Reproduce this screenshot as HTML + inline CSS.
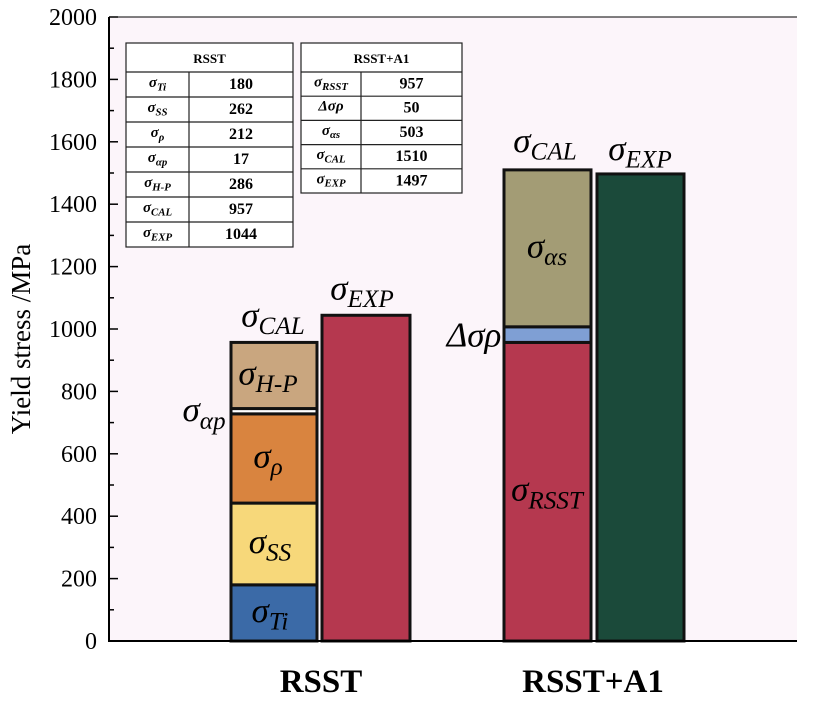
<!DOCTYPE html>
<html><head><meta charset="utf-8"><style>
html,body{margin:0;padding:0;background:#fff;}
svg{display:block;font-family:"Liberation Serif",serif;}
</style></head><body>
<svg id="c" width="816" height="720" viewBox="0 0 816 720"></svg>
<script>
const categories = ["RSST", "RSST+A1"];
const rsstParts = [180, 262, 286, 17, 212];
const rsstPartNames = ["Ti", "SS", "ρ", "αp", "H-P"];
const rsstExp = 1044;
const a1Parts = [957, 50, 503];
const a1PartNames = ["RSST", "Δσρ", "αs"];
const a1Exp = 1497;
const yTicks = [0, 200, 400, 600, 800, 1000, 1200, 1400, 1600, 1800, 2000];
const table1Rows = [["Ti","180"],["SS","262"],["ρ","212"],["αp","17"],["H-P","286"],["CAL","957"],["EXP","1044"]];
const table2Rows = [["RSST","957"],["Δσρ","50"],["αs","503"],["CAL","1510"],["EXP","1497"]];

const NS = "http://www.w3.org/2000/svg";
const svg = document.getElementById("c");
const X0 = 109, X1 = 797, Y0 = 641, Y1 = 17;
const y = v => Y0 - (v / 2000) * (Y0 - Y1);
function mk(tag, attrs, parent) {
  const e = document.createElementNS(NS, tag);
  for (const k in attrs) e.setAttribute(k, attrs[k]);
  (parent || svg).appendChild(e);
  return e;
}
function sigma(x, yy, sub, size, parent, anchor) {
  const t = mk("text", {x: x, y: yy, "font-size": size, "font-style": "italic", "text-anchor": anchor || "middle"}, parent);
  if (sub === "Δσρ") { t.textContent = "Δσρ"; return t; }
  const s1 = document.createElementNS(NS, "tspan"); s1.textContent = "σ"; t.appendChild(s1);
  const s2 = document.createElementNS(NS, "tspan"); s2.setAttribute("font-size", size * 0.72); s2.setAttribute("dy", size * 0.22); s2.textContent = sub; t.appendChild(s2);
  return t;
}

const bg = mk("rect", {x: X0, y: Y1, width: X1 - X0, height: Y0 - Y1, fill: "#fcf5fa"});



for (let v = 0; v <= 2000; v += 100) {
  const major = v % 200 === 0;
  mk("line", {x1: X0, x2: X0 + (major ? 9 : 5), y1: y(v), y2: y(v), stroke: "#000", "stroke-width": 1.5});
}
yTicks.forEach(v => {
  const t = mk("text", {x: X0 - 12, y: y(v) + 8, "font-size": 24, "text-anchor": "end"});
  t.textContent = v;
  
  
});
const yt = mk("text", {x: 0, y: 0, "font-size": 27, "text-anchor": "middle", transform: `translate(30,${(Y0 + Y1) / 2 + 10}) rotate(-90)`});
yt.textContent = "Yield stress /MPa";



const stroke = {stroke: "#111", "stroke-width": 3};
const rsstColors = ["#3b6aa7", "#f7d87a", "#d9843f", "#ffffff", "#c9a67f"];
const a1Colors = ["#b5384f", "#7f9fd4", "#a39c75"];
function stack(x, w, parts, colors, name) {
  let acc = 0;
  const mids = [];
  parts.forEach((v, i) => {
    const r = mk("rect", Object.assign({x: x, y: y(acc + v), width: w, height: y(acc) - y(acc + v), fill: colors[i]}, stroke));
    
    
    mids.push((y(acc) + y(acc + v)) / 2);
    acc += v;
  });
  return {total: acc, mids: mids};
}
const s1 = stack(231, 86, rsstParts, rsstColors, 'rsst');
const e1 = mk("rect", Object.assign({x: 322, y: y(rsstExp), width: 88, height: Y0 - y(rsstExp), fill: "#b5384f"}, stroke));
 
const s2 = stack(504, 87, a1Parts, a1Colors, 'rsst-a1');
const e2 = mk("rect", Object.assign({x: 597, y: y(a1Exp), width: 87, height: Y0 - y(a1Exp), fill: "#1b4a3a"}, stroke));
 

const F = 35;
sigma(270, s1.mids[0] + 9, "Ti", F);
sigma(270, s1.mids[1] + 9, "SS", F);
sigma(268, s1.mids[2] + 9, "ρ", F);
sigma(268, s1.mids[4] + 9, "H-P", F);
sigma(204, s1.mids[3] + 10, "αp", F);
sigma(273, y(s1.total) - 16, "CAL", F);
sigma(362, y(rsstExp) - 16, "EXP", F);
sigma(547, s2.mids[0] + 9, "RSST", F);
sigma(474, s2.mids[1] + 12, "Δσρ", F);
sigma(547, s2.mids[2] + 9, "αs", F);
sigma(545, y(s2.total) - 18, "CAL", F);
sigma(640, y(a1Exp) - 14, "EXP", F);

mk("line", {x1: X0, x2: X0, y1: Y1, y2: Y0, stroke: "#000", "stroke-width": 2});
mk("line", {x1: X0, x2: X1, y1: Y1, y2: Y1, stroke: "#000", "stroke-width": 1});
mk("line", {x1: X0 - 1, x2: X1, y1: Y0, y2: Y0, stroke: "#000", "stroke-width": 2});

[[321, categories[0]], [593, categories[1]]].forEach(([x, s]) => {
  const t = mk("text", {x: x, y: 692, "font-size": 33, "font-weight": "bold", "text-anchor": "middle"});
  t.textContent = s;
  
  
});

function table(x, w, div, title, rows, rowH, name) {
  const g = mk("g", {});
  
  
  const hH = 29, top = 43, h = hH + rows.length * rowH;
  mk("rect", {x: x, y: top, width: w, height: h, fill: "#fff", stroke: "#222", "stroke-width": 1.2}, g);
  const tt = mk("text", {x: x + w / 2, y: top + 20, "font-size": 13, "font-weight": "bold", "text-anchor": "middle"}, g);
  tt.textContent = title;
  mk("line", {x1: div, x2: div, y1: top + hH, y2: top + h, stroke: "#222", "stroke-width": 1.2}, g);
  rows.forEach((r, i) => {
    const ry = top + hH + i * rowH;
    mk("line", {x1: x, x2: x + w, y1: ry, y2: ry, stroke: "#222", "stroke-width": 1.2}, g);
    const s = sigma((x + div) / 2, ry + rowH * 0.6, r[0], 15, g);
    s.setAttribute("font-weight", "bold");
    const v = mk("text", {x: (div + x + w) / 2, y: ry + rowH * 0.68, "font-size": 16, "font-weight": "bold", "text-anchor": "middle"}, g);
    v.textContent = r[1];
  });
}
table(126, 167, 189, "RSST", table1Rows, 25, "rsst-table");
table(301, 161, 361, "RSST+A1", table2Rows, 24.2, "rsst-a1-table");
</script>
</body></html>
